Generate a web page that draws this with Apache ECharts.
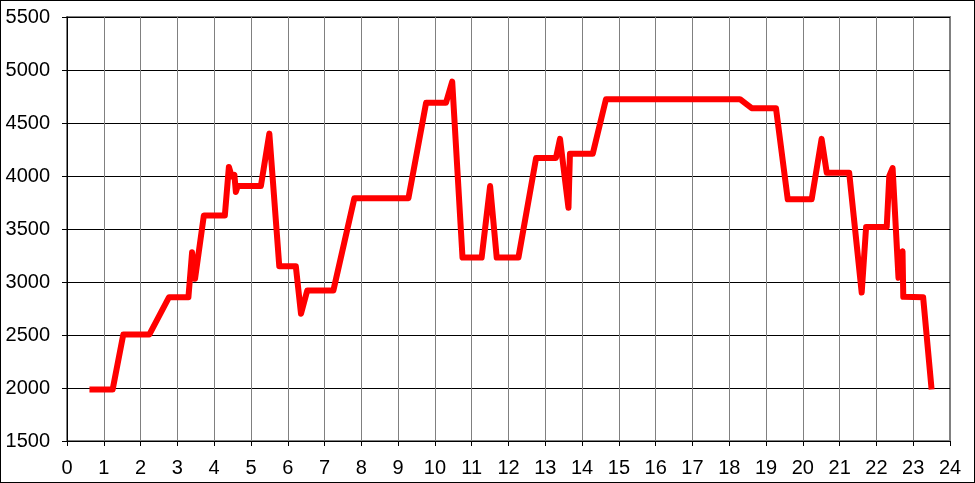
<!DOCTYPE html>
<html>
<head>
<meta charset="utf-8">
<script src="https://cdn.jsdelivr.net/npm/echarts@6/dist/echarts.min.js"></script>
<style>
html,body{margin:0;padding:0;background:#fff;}
#wrap{position:relative;width:975px;height:483px;}
#chart{width:975px;height:483px;}
#frame{position:absolute;left:0;top:0;width:975px;height:483px;box-sizing:border-box;border:1px solid #000;pointer-events:none;}
</style>
</head>
<body>
<div id="wrap"><div id="chart"></div><div id="frame"></div></div>
<script>
const xValues = [0.61, 1.24, 1.53, 2.24, 2.77, 3.30, 3.40, 3.48, 3.72, 4.29, 4.40, 4.48, 4.55, 4.59, 4.64, 5.27, 5.50, 5.77, 6.22, 6.36, 6.53, 7.24, 7.81, 9.28, 9.76, 10.30, 10.47, 10.75, 11.27, 11.50, 11.68, 12.27, 12.75, 13.29, 13.40, 13.63, 13.67, 14.29, 14.65, 18.29, 18.61, 19.27, 19.59, 20.24, 20.51, 20.65, 21.26, 21.60, 21.72, 22.28, 22.35, 22.44, 22.60, 22.71, 22.73, 23.27, 23.50];
const yValues = [1985, 1985, 2505, 2505, 2855, 2855, 3280, 3030, 3628, 3628, 4085, 3995, 4010, 3850, 3905, 3905, 4400, 3148, 3148, 2700, 2920, 2920, 3790, 3790, 4690, 4690, 4890, 3230, 3230, 3905, 3230, 3230, 4170, 4170, 4350, 3700, 4210, 4210, 4725, 4725, 4640, 4640, 3780, 3780, 4350, 4030, 4030, 2900, 3520, 3520, 4000, 4075, 3040, 3290, 2860, 2855, 1985];
const xTicks = {min: 0, max: 24, step: 1};
const yTicks = {min: 1500, max: 5500, step: 500};

const points = xValues.map((x, i) => [x, yValues[i]]);
const font = '"Liberation Sans", Arial, sans-serif';

const chart = echarts.init(document.getElementById('chart'), null, {renderer: 'canvas'});
chart.setOption({
  animation: false,
  backgroundColor: '#fff',
  grid: {left: 67, right: 25, top: 17, bottom: 42, show: true, borderColor: '#808080', borderWidth: 2, backgroundColor: 'transparent'},
  xAxis: {
    type: 'value', min: xTicks.min, max: xTicks.max, interval: xTicks.step,
    axisLine: {show: true, onZero: false, lineStyle: {color: '#000', width: 1}},
    axisTick: {show: true, length: 5, inside: false, lineStyle: {color: '#000'}},
    axisLabel: {color: '#000', fontSize: 20, fontFamily: font, margin: 17, formatter: v => String(v)},
    splitLine: {show: true, lineStyle: {color: '#808080', width: 1}}
  },
  yAxis: {
    type: 'value', min: yTicks.min, max: yTicks.max, interval: yTicks.step,
    axisLine: {show: true, lineStyle: {color: '#000', width: 1}},
    axisTick: {show: true, length: 5, lineStyle: {color: '#000'}},
    axisLabel: {color: '#000', fontSize: 20, fontFamily: font, margin: 17, formatter: v => String(v)},
    splitLine: {show: true, lineStyle: {color: '#000', width: 1}}
  },
  series: [{
    type: 'line', data: points, showSymbol: false, symbol: 'none',
    lineStyle: {color: '#ff0000', width: 6, join: 'round', cap: 'butt'},
    z: 5
  }]
});
</script>
</body>
</html>
